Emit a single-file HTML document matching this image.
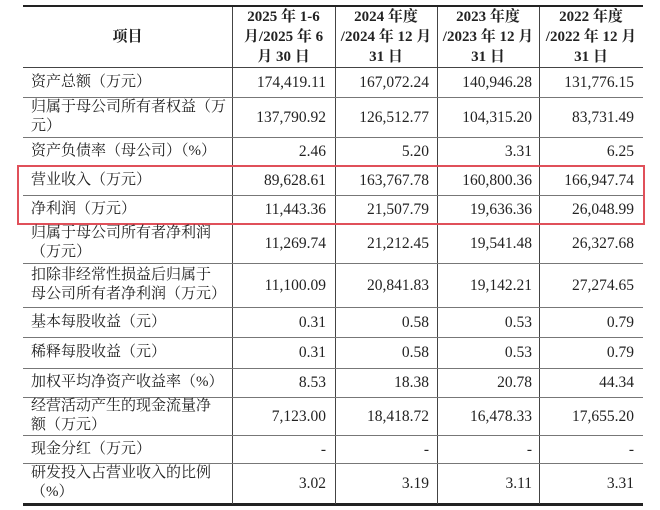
<!DOCTYPE html>
<html><head><meta charset="utf-8"><style>
body{margin:0;width:660px;height:510px;background:#fff;overflow:hidden;font-family:"Liberation Serif","Noto Serif CJK SC",serif;color:#222;}
.h{position:absolute;left:23px;width:620px;background:#777;height:1px;}
.v{position:absolute;width:1px;background:#444;top:7px;height:497px}
.c{position:absolute;font-size:15.5px;line-height:19px;display:flex;align-items:center;white-space:nowrap;}
.l{left:31px;width:200px;font-size:15px;}
.r{justify-content:flex-end;}
.hd{position:absolute;font-weight:bold;font-size:15px;line-height:20px;text-align:center;top:7px;height:60px;display:flex;align-items:center;justify-content:center;}
</style></head><body>
<div class="h" style="top:5px;height:2px;background:#222"></div>
<div class="h" style="top:503px;height:3px;background:#222"></div>
<div class="v" style="left:232px"></div>
<div class="v" style="left:335px"></div>
<div class="v" style="left:437px"></div>
<div class="v" style="left:539px"></div>
<div class="h" style="top:67px;background:#444"></div>
<div id="lines"></div>
<div style="position:absolute;left:17px;top:165px;width:624px;height:56px;border:2px solid #e0505a;"></div>

<div class="hd" style="left:23px;width:209px">项目</div>
<div class="hd" style="left:232px;width:103px">2025 年 1-6<br>月/2025 年 6<br>月 30 日</div>
<div class="hd" style="left:335px;width:102px">2024 年度<br>/2024 年 12 月<br>31 日</div>
<div class="hd" style="left:437px;width:102px">2023 年度<br>/2023 年 12 月<br>31 日</div>
<div class="hd" style="left:539px;width:104px">2022 年度<br>/2022 年 12 月<br>31 日</div>

<div id="rows"></div>
<script>
var rows=[
[67,97,"资产总额（万元）",["174,419.11","167,072.24","140,946.28","131,776.15"]],
[97,137,"归属于母公司所有者权益（万<br>元）",["137,790.92","126,512.77","104,315.20","83,731.49"]],
[137,166,"资产负债率（母公司）（%）",["2.46","5.20","3.31","6.25"]],
[166,195,"营业收入（万元）",["89,628.61","163,767.78","160,800.36","166,947.74"]],
[195,223,"净利润（万元）",["11,443.36","21,507.79","19,636.36","26,048.99"]],
[223,263,"归属于母公司所有者净利润<br>（万元）",["11,269.74","21,212.45","19,541.48","26,327.68"]],
[263,307,"扣除非经常性损益后归属于<br>母公司所有者净利润（万元）",["11,100.09","20,841.83","19,142.21","27,274.65"]],
[307,337,"基本每股收益（元）",["0.31","0.58","0.53","0.79"]],
[337,368,"稀释每股收益（元）",["0.31","0.58","0.53","0.79"]],
[368,397,"加权平均净资产收益率（%）",["8.53","18.38","20.78","44.34"]],
[397,435,"经营活动产生的现金流量净<br>额（万元）",["7,123.00","18,418.72","16,478.33","17,655.20"]],
[435,463,"现金分红（万元）",["-","-","-","-"]],
[463,503,"研发投入占营业收入的比例<br>（%）",["3.02","3.19","3.11","3.31"]]
];
var rights=[326,429,532,634],h="",ln="";
rows.forEach(function(r,k){
 var st='top:'+r[0]+'px;height:'+(r[1]-r[0])+'px;';
 h+='<div class="c l" style="'+st+'"><div>'+r[2]+'</div></div>';
 r[3].forEach(function(v,i){h+='<div class="c r" style="'+st+'left:'+(rights[i]-100)+'px;width:100px">'+v+'</div>';});
 if(k<rows.length-1) ln+='<div class="h" style="top:'+r[1]+'px"></div>';
});
document.getElementById("rows").innerHTML=h;
document.getElementById("lines").innerHTML=ln;
</script>
</body></html>
